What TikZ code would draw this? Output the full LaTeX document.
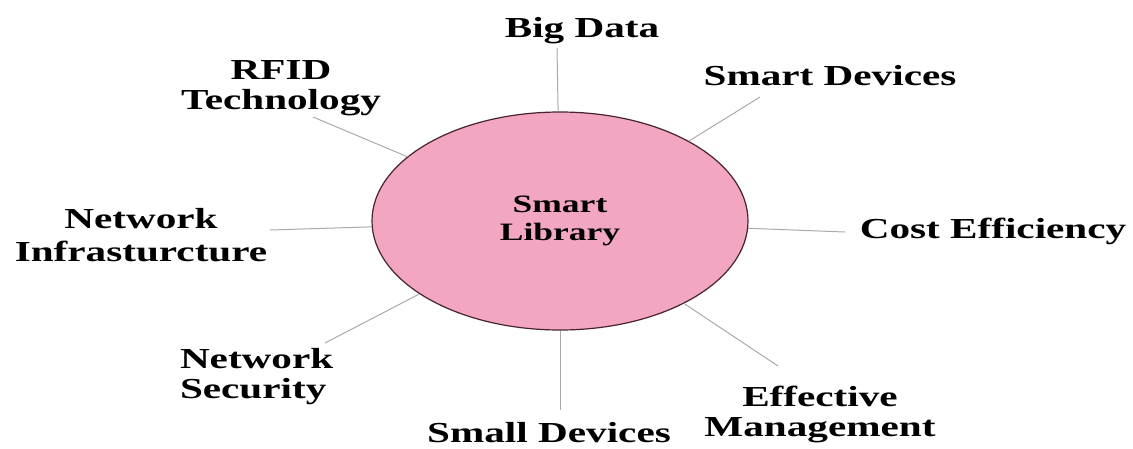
\documentclass[tikz,border=0pt]{standalone}
\usepackage{fontspec}
\usepackage{tikz}
\usetikzlibrary{shapes.geometric}
\newfontfamily\topicfont[FakeStretch=1.42]{Liberation Serif}
\definecolor{hubpink}{RGB}{243,166,194}
\definecolor{hubedge}{RGB}{70,35,45}
\definecolor{spokegray}{RGB}{170,170,170}
\tikzstyle{hub}=[ellipse,draw=hubedge,line width=1.2pt,fill=hubpink,inner sep=0pt,minimum width=376pt,minimum height=218pt,align=center,font=\topicfont\bfseries\fontsize{25}{28}\selectfont]
\tikzstyle{topic}=[inner sep=0pt,outer sep=0pt,align=center,anchor=north,font=\topicfont\bfseries\fontsize{29}{30}\selectfont]
\tikzstyle{spoke}=[draw=spokegray,line width=1pt]

\begin{document}
\begin{tikzpicture}[x=1pt,y=-1pt]
                \useasboundingbox[fill=white] (0,0) rectangle (1133,448);
                \path (557,48) coordinate (t-big)
                    (760,97) coordinate (t-smart)
                    (845,232) coordinate (t-cost)
                    (778,366) coordinate (t-eff)
                    (560,410) coordinate (t-small)
                    (325,343) coordinate (t-sec)
                    (270,230) coordinate (t-infra)
                    (313,117) coordinate (t-rfid)
                    ;
                \node[hub] (lib) at (560,221) {Smart\\Library};
                \foreach \t in {big,smart,cost,eff,small,sec,infra,rfid}
                    \draw[spoke] (lib) -- (t-\t);
                \node[topic] (big) at (582,17) {Big Data};
                \node[topic] (smart) at (830,65) {Smart Devices};
                \node[topic] (cost) at (993,218) {Cost Efficiency};
                \node[topic] (eff) at (820,386) {Effective\\Management};
                \node[topic] (small) at (549,422) {Small Devices};
                \node[topic,anchor=north west,align=left] (sec) at (180,348) {Network\\Security};
                \node[topic,font=\topicfont\bfseries\fontsize{29}{33}\selectfont] (infra) at (141,208) {Network\\Infrasturcture};
                \node[topic] (rfid) at (281,61) {RFID\\Technology};
            \end{tikzpicture}
\end{document}
